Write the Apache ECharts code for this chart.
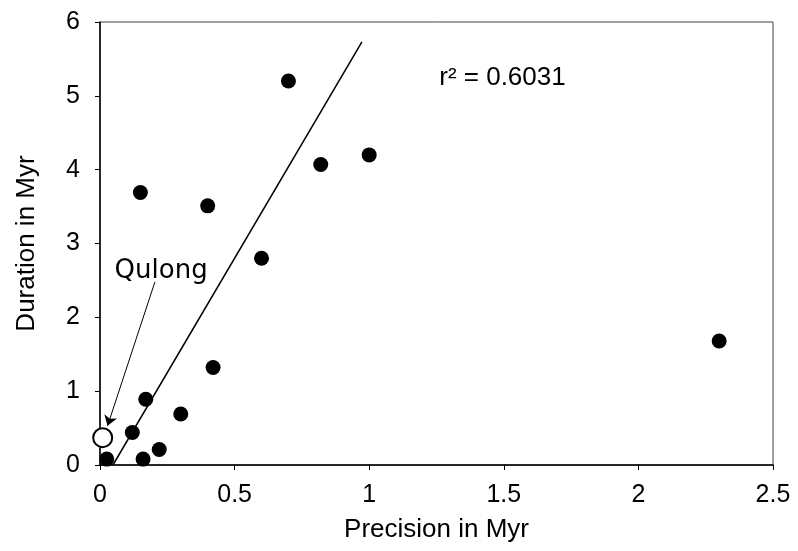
<!DOCTYPE html>
<html>
<head>
<meta charset="utf-8">
<script src="https://cdn.jsdelivr.net/npm/echarts@6/dist/echarts.min.js"></script>
<style>
  html, body { margin: 0; padding: 0; background: #fff; }
  #chart { width: 798px; height: 551px; }
</style>
</head>
<body>
<div id="chart"></div>
<script>
// 数据：精度 (x) 与 持续时间 (y)
const precision = [0.025, 0.16, 0.12, 0.17, 0.22, 0.30, 0.42, 0.60, 0.70, 0.82, 1.00, 0.15, 0.40, 2.30];
const duration  = [0.08, 0.08, 0.44, 0.89, 0.21, 0.69, 1.32, 2.80, 5.20, 4.07, 4.20, 3.69, 3.51, 1.68];

// Qulong 空心点
const qulongPoint = [0.01, 0.37];
// 回归线端点
const trendX = [0.048, 0.973];
const trendY = [0, 5.73];
// 箭头 (起点 -> 终点)
const arrowFrom = [0.204, 2.48];
const arrowTo = [0.028, 0.53];
// 注释文字
const qulongLabelPos = [0.227, 2.63];
const r2LabelPos = [1.495, 5.24];
const r2Text = 'r² = 0.6031';

const textColor = '#000';
const font = 'Liberation Sans, Arial, sans-serif';

const chart = echarts.init(document.getElementById('chart'));

chart.setOption({
    animation: false,
    backgroundColor: '#fff',
    grid: {
        left: 100,
        right: 25,
        top: 22,
        bottom: 86,
        show: true,
        borderColor: '#444',
        borderWidth: 1
    },
    xAxis: {
        type: 'value',
        min: 0,
        max: 2.5,
        interval: 0.5,
        name: 'Precision in Myr',
        nameLocation: 'middle',
        nameGap: 52,
        nameTextStyle: { color: textColor, fontSize: 26, fontFamily: font },
        axisLine: { onZero: false, lineStyle: { color: '#000', width: 1.5 } },
        axisTick: { show: true, length: 5, lineStyle: { color: '#000' } },
        axisLabel: { color: textColor, fontSize: 25, fontFamily: font, margin: 18 },
        splitLine: { show: false }
    },
    yAxis: {
        type: 'value',
        min: 0,
        max: 6,
        interval: 1,
        name: 'Duration in Myr',
        nameLocation: 'middle',
        nameGap: 60,
        nameTextStyle: { color: textColor, fontSize: 26, fontFamily: font },
        axisLine: { onZero: false, lineStyle: { color: '#000', width: 1.5 } },
        axisTick: { show: true, length: 5, lineStyle: { color: '#000' } },
        axisLabel: { color: textColor, fontSize: 25, fontFamily: font, margin: 20 },
        splitLine: { show: false }
    },
    series: [
        {
            name: 'trend',
            type: 'line',
            data: trendX.map((x, i) => [x, trendY[i]]),
            symbol: 'none',
            lineStyle: { color: '#000', width: 1.5 },
            z: 1
        },
        {
            name: 'records',
            type: 'scatter',
            data: precision.map((x, i) => [x, duration[i]]),
            symbol: 'circle',
            symbolSize: 15,
            itemStyle: { color: '#000', opacity: 1 },
            z: 3
        },
        {
            name: 'Qulong',
            type: 'scatter',
            data: [qulongPoint],
            symbol: 'circle',
            symbolSize: 19,
            itemStyle: { color: '#fff', borderColor: '#000', borderWidth: 2, opacity: 1 },
            z: 4
        },
        {
            name: 'labels',
            type: 'scatter',
            symbolSize: 0,
            silent: true,
            z: 5,
            itemStyle: { opacity: 1 },
            data: [
                { value: qulongLabelPos, label: { formatter: 'Qulong', fontFamily: 'DejaVu Sans', fontSize: 26 } },
                { value: r2LabelPos, label: { formatter: r2Text, fontFamily: font, fontSize: 26 } }
            ],
            label: { show: true, position: 'inside', color: textColor }
        },
        {
            name: 'arrow',
            type: 'lines',
            coordinateSystem: 'cartesian2d',
            silent: true,
            z: 6,
            symbol: ['none', 'arrow'],
            symbolSize: 10,
            lineStyle: { color: '#000', width: 1, opacity: 1 },
            data: [{ coords: [arrowFrom, arrowTo] }]
        }
    ]
});

window.addEventListener('resize', () => chart.resize());
</script>
</body>
</html>
